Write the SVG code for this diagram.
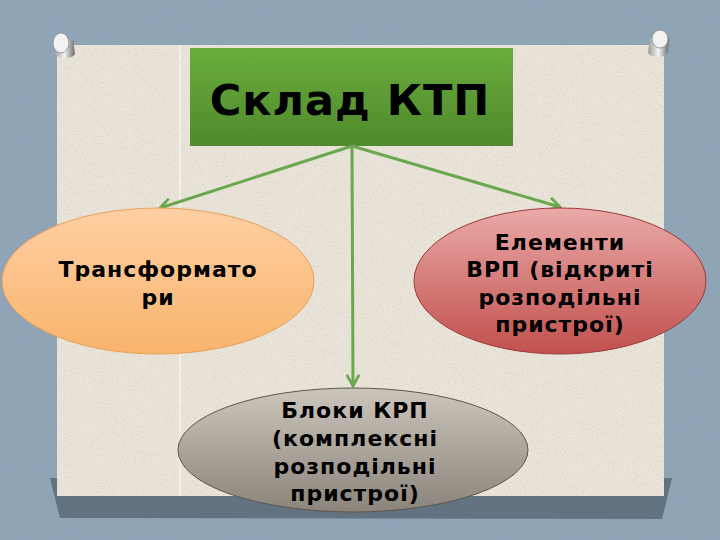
<svg xmlns="http://www.w3.org/2000/svg" width="720" height="540" viewBox="0 0 720 540">
<defs>
<style>
.lbl{font-family:"DejaVu Sans","Noto Sans",sans-serif;font-weight:bold;fill:#000;text-anchor:middle}
.sm{font-size:22px;letter-spacing:1px}
.con{stroke:#6aa84f;stroke-width:3;fill:none}
</style>
<linearGradient id="gGreen" x1="0" y1="0" x2="0" y2="1"><stop offset="0" stop-color="#6aac3c"/><stop offset="1" stop-color="#4f8a2c"/></linearGradient>
<linearGradient id="gOrange" x1="0" y1="0" x2="0" y2="1"><stop offset="0" stop-color="#ffcfa3"/><stop offset="1" stop-color="#f9b46c"/></linearGradient>
<linearGradient id="gRed" x1="0" y1="0" x2="0" y2="1"><stop offset="0" stop-color="#e9a9a7"/><stop offset="1" stop-color="#c1504d"/></linearGradient>
<linearGradient id="gGrey" x1="0" y1="0" x2="0" y2="1"><stop offset="0" stop-color="#cbc5bc"/><stop offset="1" stop-color="#8b847a"/></linearGradient>
<linearGradient id="gPin" x1="0" y1="0" x2="1" y2="0"><stop offset="0" stop-color="#9a9a9a"/><stop offset="0.5" stop-color="#f4f4f4"/><stop offset="1" stop-color="#6a6a6a"/></linearGradient>
<filter id="tex" x="0" y="0" width="100%" height="100%"><feTurbulence type="fractalNoise" baseFrequency="0.9" numOctaves="2" seed="3"/><feColorMatrix type="matrix" values="0 0 0 0 0.3  0 0 0 0 0.3  0 0 0 0 0.3  0 0 0 -1.6 0.9"/><feComposite in2="SourceGraphic" operator="in"/></filter>
<marker id="arr" viewBox="0 0 12 12" refX="10" refY="6" markerWidth="5" markerHeight="5" orient="auto" markerUnits="strokeWidth"><path d="M1,1 L10,6 L1,11" fill="none" stroke="#6aa84f" stroke-width="2.2"/></marker>
</defs>
<rect x="0" y="0" width="720" height="540" fill="#8fa5b7"/>
<rect x="0" y="0" width="720" height="540" fill="#8fa5b7" filter="url(#tex)" opacity="0.35"/>
<polygon points="50,478 672,478 662,519 60,518" fill="#5a6a78" opacity="0.85"/>
<rect x="57" y="45" width="607" height="451" fill="#ebe5da"/>
<rect x="57" y="45" width="607" height="451" fill="#ebe5da" filter="url(#tex)" opacity="0.3"/>
<line x1="180" y1="45" x2="180" y2="496" stroke="#f7f3ec" stroke-width="1.5"/>
<g id="pins">
<path d="M54,40 L56,55 A10,5 0 0 0 75,54 L73,40 Z" fill="url(#gPin)"/>
<ellipse cx="61" cy="43" rx="8" ry="10" fill="#f2f2f2" stroke="#8a8a8a" stroke-width="0.8"/>
<path d="M650,38 L648,52 A10,5 0 0 0 668,52 L669,38 Z" fill="url(#gPin)"/>
<ellipse cx="660" cy="39" rx="8" ry="9" fill="#f2f2f2" stroke="#8a8a8a" stroke-width="0.8"/>
</g>
<g id="title">
<rect x="190" y="48" width="323" height="98" fill="url(#gGreen)"/>
<text class="lbl" x="350" y="115" font-size="43" letter-spacing="1">Склад КТП</text>
</g>
<g id="connectors">
<line class="con" x1="352" y1="146" x2="160" y2="208" marker-end="url(#arr)"/>
<line class="con" x1="352" y1="146" x2="353" y2="386" marker-end="url(#arr)"/>
<line class="con" x1="352" y1="146" x2="560" y2="207" marker-end="url(#arr)"/>
</g>
<g id="transformers">
<ellipse cx="158" cy="281" rx="156" ry="73" fill="url(#gOrange)" stroke="#e8a05a" stroke-width="1"/>
<text class="lbl sm" x="158" y="277">Трансформато</text>
<text class="lbl sm" x="158" y="305">ри</text>
</g>
<g id="vrp">
<ellipse cx="560" cy="281" rx="146" ry="73" fill="url(#gRed)" stroke="#9b3a38" stroke-width="1"/>
<text class="lbl sm" x="560" y="250">Елементи</text>
<text class="lbl sm" x="560" y="277">ВРП (відкриті</text>
<text class="lbl sm" x="560" y="305">розподільні</text>
<text class="lbl sm" x="560" y="332">пристрої)</text>
</g>
<g id="krp">
<ellipse cx="353" cy="450" rx="175" ry="62" fill="url(#gGrey)" stroke="#5a554f" stroke-width="1"/>
<text class="lbl sm" x="355" y="418">Блоки КРП</text>
<text class="lbl sm" x="355" y="446">(комплексні</text>
<text class="lbl sm" x="355" y="474">розподільні</text>
<text class="lbl sm" x="355" y="501">пристрої)</text>
</g>
</svg>
